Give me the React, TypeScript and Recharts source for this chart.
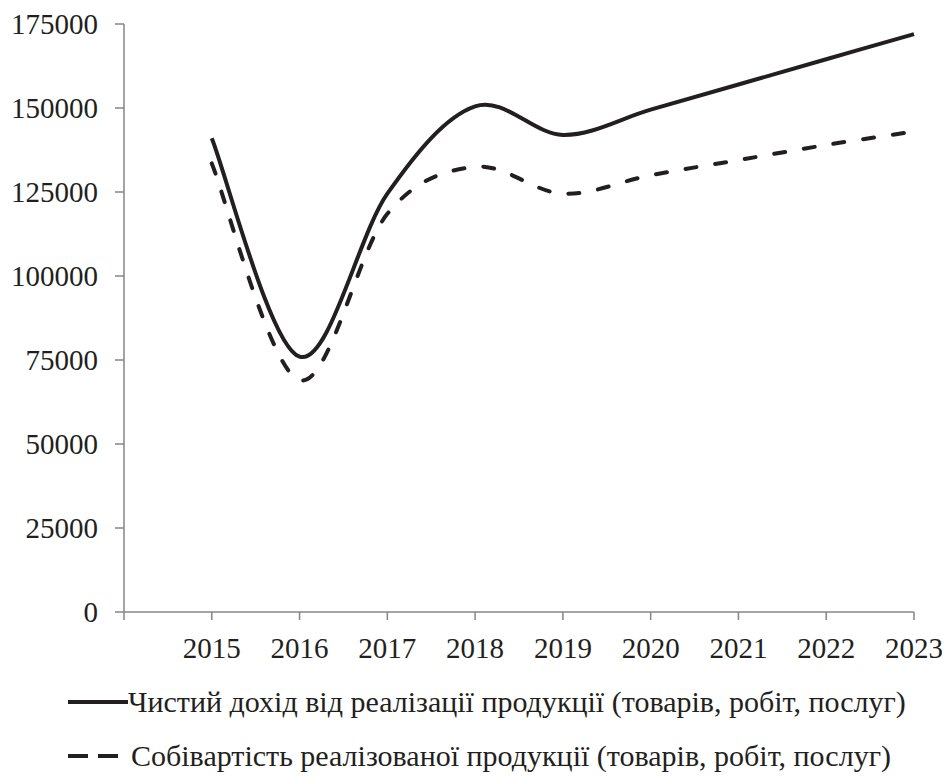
import { LineChart, Line, XAxis, YAxis, Legend } from 'recharts';

const years = [2015, 2016, 2017, 2018, 2019, 2020, 2021, 2022, 2023];
const revenue = [141000, 76000, 124500, 150500, 142000, 149500, 157000, 164500, 172000];
const cost = [133500, 69000, 118500, 132500, 124500, 130000, 134500, 139000, 143000];
const yTicks = [0, 25000, 50000, 75000, 100000, 125000, 150000, 175000];
const xTicks = [2014, 2015, 2016, 2017, 2018, 2019, 2020, 2021, 2022, 2023];

const revenueName = 'Чистий дохід від реалізації продукції (товарів, робіт, послуг)';
const costName = 'Собівартість реалізованої продукції (товарів, робіт, послуг)';
const seriesOrder = [revenueName, costName];

const data = years.map((year, i) => ({ year, revenue: revenue[i], cost: cost[i] }));

const ink = '#231f20';
const axisGray = '#868686';
const font = '"Liberation Serif", "Times New Roman", serif';

// excel-like smoothing (catmull-rom as bezier)
const excelSmooth = (context: any) => {
    let pts: [number, number][] = [];
    return {
        areaStart() {},
        areaEnd() {},
        lineStart() {
            pts = [];
        },
        point(x: number, y: number) {
            pts.push([+x, +y]);
        },
        lineEnd() {
            if (!pts.length) return;
            context.moveTo(pts[0][0], pts[0][1]);
            for (let i = 0; i < pts.length - 1; i++) {
                const p0 = pts[i - 1] || pts[i];
                const p1 = pts[i];
                const p2 = pts[i + 1];
                const p3 = pts[i + 2] || p2;
                context.bezierCurveTo(
                    p1[0] + (p2[0] - p0[0]) / 6,
                    p1[1] + (p2[1] - p0[1]) / 6,
                    p2[0] - (p3[0] - p1[0]) / 6,
                    p2[1] - (p3[1] - p1[1]) / 6,
                    p2[0],
                    p2[1]
                );
            }
        },
    };
};

const LegendContent = (props: any) => {
    const items = [...(props.payload || [])].sort(
        (a: any, b: any) => seriesOrder.indexOf(a.value) - seriesOrder.indexOf(b.value)
    );
    return (
        <div style={{ position: 'relative', height: 125, fontFamily: font, fontSize: 30, color: ink }}>
            {items.map((item: any, i: number) => (
                <div
                    key={item.value}
                    style={{
                        position: 'absolute',
                        left: 60,
                        top: i === 0 ? 37 : 91,
                        height: 34,
                        display: 'flex',
                        alignItems: 'center',
                    }}
                >
                    <svg width={i === 0 ? 60 : 63} height={34} style={{ flex: 'none' }}>
                        <line
                            x1={0}
                            y1={17}
                            x2={i === 0 ? 60 : 50}
                            y2={17}
                            stroke={ink}
                            strokeWidth={4}
                            strokeDasharray={i === 0 ? undefined : '20 10'}
                        />
                    </svg>
                    <span style={{ whiteSpace: 'nowrap' }}>{item.value}</span>
                </div>
            ))}
        </div>
    );
};

export default function App() {
    return (
        <div style={{ width: 934, height: 765 }}>
            <LineChart width={934} height={765} data={data} margin={{ top: 16, right: 28, bottom: 0, left: 0 }}>
                <XAxis
                    dataKey="year"
                    type="number"
                    domain={[2014, 2023]}
                    ticks={xTicks}
                    interval={0}
                    tickFormatter={(v: number) => (v === 2014 ? '' : String(v))}
                    height={36}
                    tickSize={8}
                    tickMargin={17}
                    stroke={axisGray}
                    strokeWidth={1.5}
                    tick={{ fill: ink, fontSize: 29, fontFamily: font }}
                />
                <YAxis
                    domain={[0, 175000]}
                    ticks={yTicks}
                    interval={0}
                    width={116}
                    tickSize={9}
                    tickMargin={17}
                    stroke={axisGray}
                    strokeWidth={1.5}
                    tick={{ fill: ink, fontSize: 29, fontFamily: font }}
                />
                <Legend verticalAlign="bottom" content={<LegendContent />} />
                <Line
                    dataKey="revenue"
                    name={revenueName}
                    type={excelSmooth as any}
                    stroke={ink}
                    strokeWidth={4}
                    dot={false}
                    isAnimationActive={false}
                />
                <Line
                    dataKey="cost"
                    name={costName}
                    type={excelSmooth as any}
                    stroke={ink}
                    strokeWidth={4}
                    strokeDasharray="11 19"
                    strokeLinecap="round"
                    dot={false}
                    isAnimationActive={false}
                />
            </LineChart>
        </div>
    );
}
